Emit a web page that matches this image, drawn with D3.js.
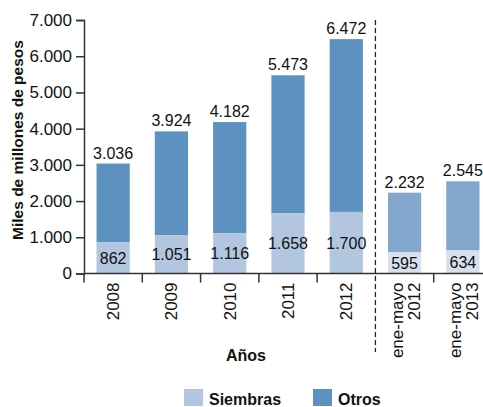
<!DOCTYPE html>
<html>
<head>
<meta charset="utf-8">
<script src="https://cdn.jsdelivr.net/npm/d3@7"></script>
<style>
  body { margin: 0; background: #fff; }
  svg { font-family: "Liberation Sans", Arial, sans-serif; }
</style>
</head>
<body>
<div id="chart"></div>
<script>
// data
var categories = ["2008", "2009", "2010", "2011", "2012", "ene-mayo\n2012", "ene-mayo\n2013"];
var siembras = [862, 1051, 1116, 1658, 1700, 595, 634];
var totals = [3036, 3924, 4182, 5473, 6472, 2232, 2545];
var yTicks = [0, 1000, 2000, 3000, 4000, 5000, 6000, 7000];

var width = 483, height = 407;
var margin = {left: 84, top: 20, bottom: 133};

var fmt = function(v) { return d3.format(",")(v).replace(/,/g, "."); };

var svg = d3.select('#chart').append('svg')
  .attr('width', width)
  .attr('height', height);

var x = d3.scaleBand()
  .domain(categories)
  .range([margin.left, 492])
  .paddingInner(0.43)
  .paddingOuter(0.215);

var y = d3.scaleLinear()
  .domain([0, 7000])
  .range([height - margin.bottom - 0.5, margin.top]);

// colors: normal years and the partial (ene-mayo) ones are lighter
function colSiembras(i) { return i < 5 ? "#b3c6e0" : "#d8e0ee"; }
function colOtros(i) { return i < 5 ? "#5d92c0" : "#83a6cc"; }

var bars = svg.selectAll('g.bar')
  .data(categories)
  .enter().append('g')
  .attr('class', 'bar');

bars.append('rect')
  .attr('x', function(d) { return x(d); })
  .attr('width', x.bandwidth())
  .attr('y', function(d, i) { return y(totals[i]); })
  .attr('height', function(d, i) { return y(siembras[i]) - y(totals[i]); })
  .attr('fill', function(d, i) { return colOtros(i); });

bars.append('rect')
  .attr('x', function(d) { return x(d); })
  .attr('width', x.bandwidth())
  .attr('y', function(d, i) { return y(siembras[i]); })
  .attr('height', function(d, i) { return y(0) - y(siembras[i]); })
  .attr('fill', function(d, i) { return colSiembras(i); });

// total labels above bars
bars.append('text')
  .attr('x', function(d) { return x(d) + x.bandwidth() / 2; })
  .attr('y', function(d, i) { return y(totals[i]) - 5; })
  .attr('text-anchor', 'middle')
  .attr('font-size', 16)
  .attr('fill', '#111')
  .text(function(d, i) { return fmt(totals[i]); });

// siembras labels, roughly centred in the segment
bars.append('text')
  .attr('x', function(d) { return x(d) + x.bandwidth() / 2; })
  .attr('y', function(d, i) { return (y(siembras[i]) + y(0)) / 2 + 6; })
  .attr('text-anchor', 'middle')
  .attr('font-size', 16)
  .attr('fill', '#111')
  .text(function(d, i) { return fmt(siembras[i]); });

// y axis
var yAxis = svg.append('g')
  .attr('transform', 'translate(' + margin.left + ',0)')
  .call(d3.axisLeft(y).tickValues(yTicks).tickFormat(fmt).tickSizeOuter(0).tickSize(8));
yAxis.selectAll('text').attr('font-size', 17).attr('fill', '#111').attr('dx', -1)
  .attr('font-family', '"Liberation Sans", Arial, sans-serif');
yAxis.selectAll('line, path').attr('stroke', '#333').attr('stroke-width', 1.5);

// x axis line + ticks at band boundaries
var step = x.step();
var x0 = margin.left;
svg.append('line')
  .attr('x1', x0).attr('x2', width)
  .attr('y1', y(0)).attr('y2', y(0))
  .attr('stroke', '#333').attr('stroke-width', 1.5);

categories.forEach(function(c, i) {
  if (i === 5) return;
  var bx = x(c) - (step - x.bandwidth()) / 2;
  svg.append('line')
    .attr('x1', bx).attr('x2', bx)
    .attr('y1', y(0)).attr('y2', y(0) + 9)
    .attr('stroke', '#333').attr('stroke-width', 1.5);
});

// dashed separator
var sepX = x(categories[5]) - (step - x.bandwidth()) / 2;
svg.append('line')
  .attr('x1', sepX).attr('x2', sepX)
  .attr('y1', 20).attr('y2', 352)
  .attr('stroke', '#222').attr('stroke-width', 1.3)
  .attr('stroke-dasharray', '5,3');

// category labels rotated
categories.forEach(function(c) {
  var lines = c.split("\n");
  var cx = x(c) + x.bandwidth() / 2;
  var t = svg.append('text')
    .attr('transform', 'translate(' + cx + ',' + (y(0) + 9) + ') rotate(-90)')
    .attr('text-anchor', 'end')
    .attr('font-size', 17)
    .attr('fill', '#111');
  lines.forEach(function(l, k) {
    t.append('tspan')
      .attr('x', 0)
      .attr('dy', lines.length === 1 ? 6 : (k === 0 ? -2 : 17))
      .text(l);
  });
});

// axis titles
svg.append('text')
  .attr('x', 246).attr('y', 361)
  .attr('text-anchor', 'middle')
  .attr('font-size', 16).attr('font-weight', 'bold')
  .attr('fill', '#111')
  .text('Años');

svg.append('text')
  .attr('transform', 'translate(23,' + 140 + ') rotate(-90)')
  .attr('text-anchor', 'middle')
  .attr('font-size', 15.5).attr('font-weight', 'bold')
  .attr('fill', '#111')
  .text('Miles de millones de pesos');

// legend
var legend = [{label: "Siembras", color: "#b3c6e0", x: 184}, {label: "Otros", color: "#5d92c0", x: 313}];
legend.forEach(function(l) {
  svg.append('rect')
    .attr('x', l.x).attr('y', 389).attr('width', 19).attr('height', 17)
    .attr('fill', l.color);
  svg.append('text')
    .attr('x', l.x + 25).attr('y', 405)
    .attr('font-size', 16).attr('font-weight', 'bold')
    .attr('fill', '#111')
    .text(l.label);
});
</script>
</body>
</html>
